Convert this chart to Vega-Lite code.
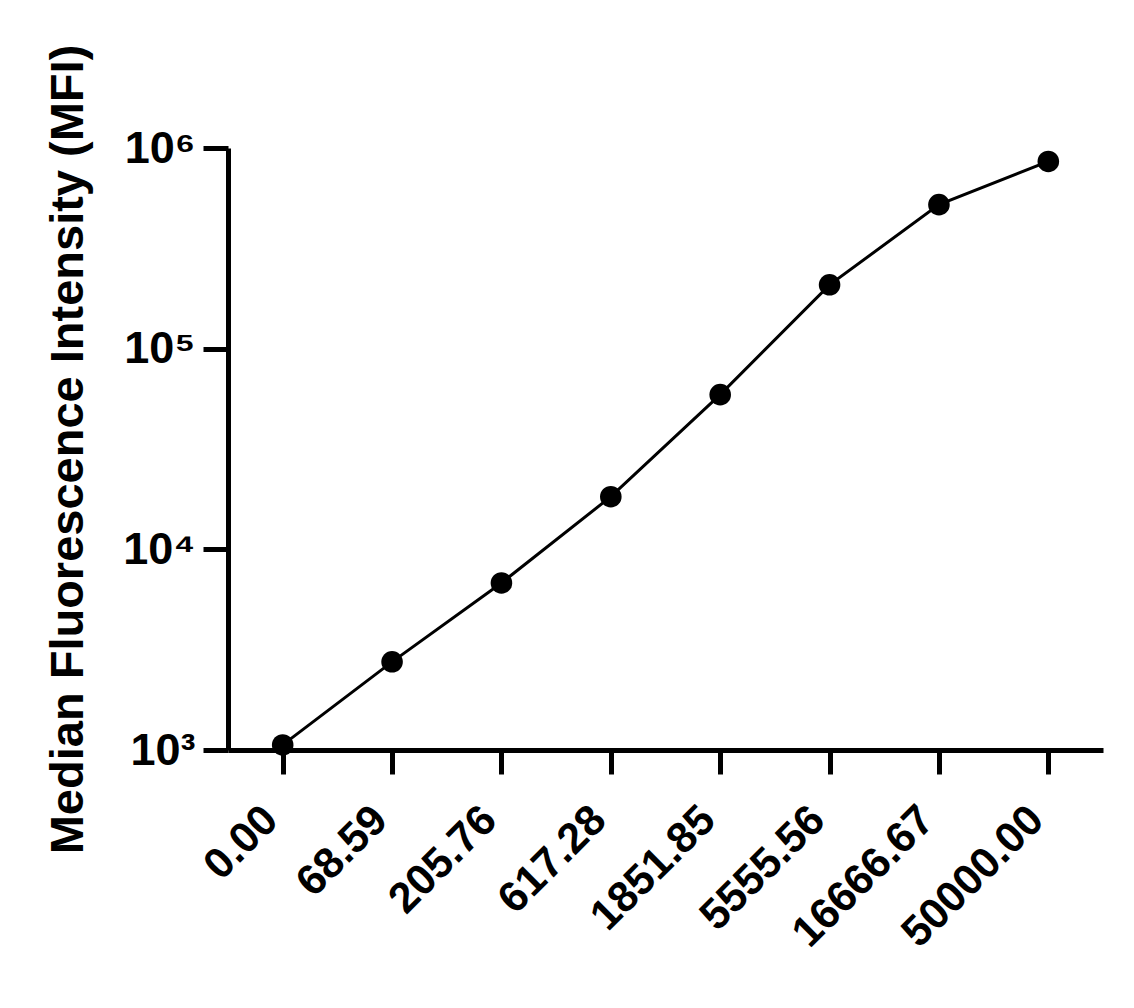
{
  "$schema": "https://vega.github.io/schema/vega-lite/v6.json",
  "width": 875,
  "height": 602,
  "autosize": {"type": "none"},
  "padding": {"left": 228, "top": 148, "right": 31, "bottom": 258},
  "background": "white",
  "config": {
    "view": {"stroke": null},
    "axis": {
      "grid": false,
      "domainColor": "black",
      "domainWidth": 5,
      "tickColor": "black",
      "tickWidth": 5,
      "labelColor": "black",
      "titleColor": "black",
      "labelFont": "Liberation Sans",
      "titleFont": "Liberation Sans",
      "labelFontWeight": "bold",
      "titleFontWeight": "bold"
    }
  },
  "data": {
    "values": [
      {"conc": "0.00", "mfi": 1060},
      {"conc": "68.59", "mfi": 2750},
      {"conc": "205.76", "mfi": 6800},
      {"conc": "617.28", "mfi": 18300},
      {"conc": "1851.85", "mfi": 59000},
      {"conc": "5555.56", "mfi": 208000},
      {"conc": "16666.67", "mfi": 522000},
      {"conc": "50000.00", "mfi": 857000}
    ]
  },
  "encoding": {
    "x": {
      "field": "conc",
      "type": "ordinal",
      "sort": null,
      "scale": {"type": "point", "padding": 0.5},
      "axis": {
        "title": null,
        "labelAngle": -45,
        "labelAlign": "right",
        "labelBaseline": "alphabetic",
        "labelFontSize": 43,
        "labelPadding": 48,
        "labelOffset": -3,
        "tickSize": 24
      }
    },
    "y": {
      "field": "mfi",
      "type": "quantitative",
      "scale": {"type": "log", "domain": [1000, 1000000], "nice": false},
      "axis": {
        "title": "Median Fluorescence Intensity (MFI)",
        "titleFontSize": 47,
        "titlePadding": 30,
        "values": [1000, 10000, 100000, 1000000],
        "labelExpr": "datum.value == 1000 ? '10³' : datum.value == 10000 ? '10⁴' : datum.value == 100000 ? '10⁵' : '10⁶'",
        "labelFontSize": 45,
        "labelPadding": 8,
        "tickSize": 25
      }
    }
  },
  "layer": [
    {"mark": {"type": "line", "color": "black", "strokeWidth": 3}},
    {"mark": {"type": "point", "filled": true, "color": "black", "opacity": 1, "size": 465, "shape": "circle"}}
  ]
}
